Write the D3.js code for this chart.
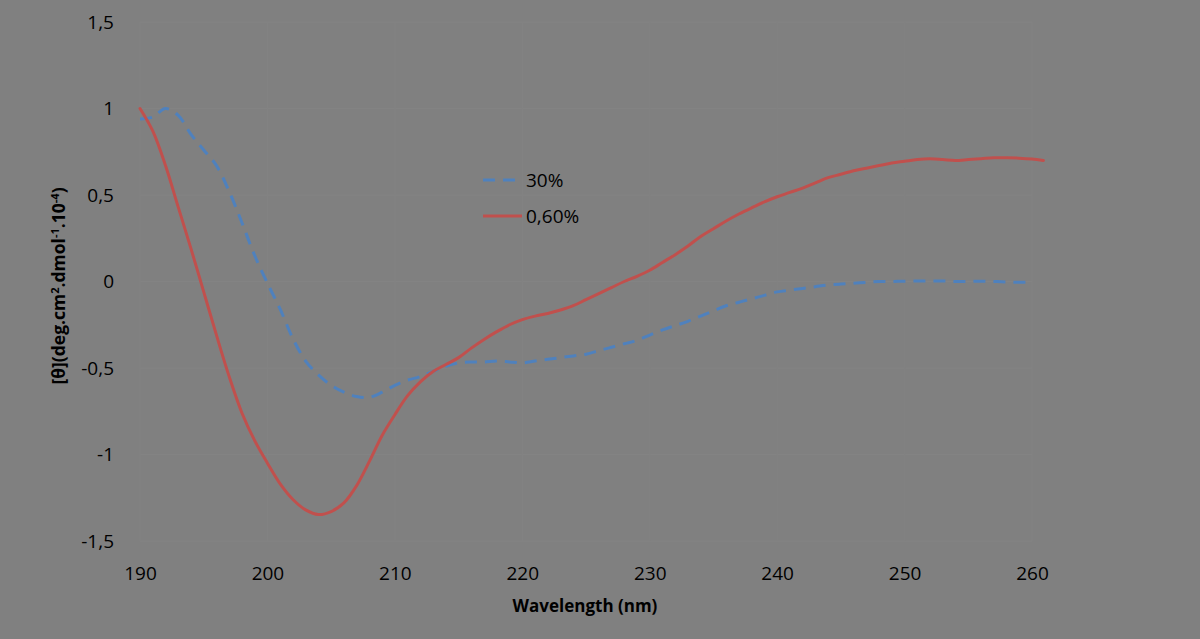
<!DOCTYPE html>
<html>
<head>
<meta charset="utf-8">
<script src="https://cdn.jsdelivr.net/npm/d3@7"></script>
<style>
  body { margin: 0; background: #808080; }
  svg { display: block; }
</style>
</head>
<body>
<svg id="graph"></svg>
<script>
// wavelengths (nm) for each curve
var wavelengths = [190,191,192,193,194,195,196,197,198,199,
                   200,201,202,203,204,205,206,207,208,209,
                   210,211,212,213,214,215,216,217,218,219,
                   220,221,222,223,224,225,226,227,228,229,
                   230,231,232,233,234,235,236,237,238,239,
                   240,241,242,243,244,245,246,247,248,249,
                   250,251,252,253,254,255,256,257,258,259,260];
var wavelengthsRed = wavelengths.concat([260.9]);

// 30% (blue dashed)
var series30 = [0.94,0.95,1.0,0.96,0.85,0.76,0.67,0.52,0.34,0.15,
                -0.01,-0.16,-0.33,-0.46,-0.54,-0.60,-0.64,-0.665,-0.67,-0.64,
                -0.60,-0.57,-0.55,-0.52,-0.49,-0.47,-0.465,-0.465,-0.46,-0.465,
                -0.47,-0.46,-0.45,-0.44,-0.43,-0.42,-0.40,-0.38,-0.36,-0.34,
                -0.31,-0.28,-0.255,-0.23,-0.20,-0.17,-0.14,-0.12,-0.10,-0.08,
                -0.06,-0.05,-0.04,-0.03,-0.02,-0.015,-0.01,-0.005,0.0,0.0,
                0.002,0.003,0.003,0.003,0.0,0.0,0.002,0.0,-0.003,-0.005,-0.004];

// 0,60% (red solid)
var series060 = [1.0,0.87,0.67,0.43,0.19,-0.06,-0.31,-0.55,-0.76,-0.92,
                 -1.05,-1.17,-1.26,-1.32,-1.347,-1.33,-1.28,-1.18,-1.04,-0.89,
                 -0.77,-0.66,-0.58,-0.52,-0.48,-0.44,-0.385,-0.335,-0.29,-0.25,
                 -0.22,-0.20,-0.185,-0.165,-0.14,-0.105,-0.07,-0.035,0.0,0.03,
                 0.065,0.11,0.155,0.205,0.26,0.305,0.35,0.39,0.426,0.46,
                 0.49,0.515,0.54,0.57,0.60,0.62,0.64,0.655,0.67,0.685,
                 0.695,0.705,0.709,0.705,0.70,0.705,0.71,0.715,0.715,0.713,0.708,0.70];

var xTicks = [190,200,210,220,230,240,250,260];
var yTicks = [-1.5,-1,-0.5,0,0.5,1,1.5];
var seriesNames = ["30%", "0,60%"];
var seriesColors = ["#4f81bd", "#c0504d"];

var screen = {width: 1200, height: 639};
var plot = {left: 140, right: 1032, top: 22, bottom: 541};
var font = "'Open Sans', 'Liberation Sans', sans-serif";

var svg = d3.select("#graph")
            .attr("width", screen.width)
            .attr("height", screen.height);

svg.append("rect")
   .attr("width", screen.width)
   .attr("height", screen.height)
   .attr("fill", "#808080");

var xScale = d3.scaleLinear().domain([190, 260]).range([plot.left, plot.right]);
var yScale = d3.scaleLinear().domain([-1.5, 1.5]).range([plot.bottom, plot.top]);

var fmt = function(v){ return String(v).replace(".", ","); };

// barely visible gridlines
svg.append("g")
   .selectAll("line")
   .data(yTicks)
   .enter().append("line")
   .attr("x1", plot.left).attr("x2", plot.right)
   .attr("y1", function(d){ return yScale(d); })
   .attr("y2", function(d){ return yScale(d); })
   .attr("stroke", "#838383").attr("stroke-width", 1);

svg.append("g")
   .selectAll("line")
   .data(xTicks)
   .enter().append("line")
   .attr("y1", plot.top).attr("y2", plot.bottom)
   .attr("x1", function(d){ return xScale(d); })
   .attr("x2", function(d){ return xScale(d); })
   .attr("stroke", "#828282").attr("stroke-width", 1);

// axes (labels only)
var yAxis = svg.append("g")
   .attr("transform", "translate(" + (plot.left - 23) + ",0)")
   .call(d3.axisLeft(yScale).tickValues(yTicks).tickFormat(fmt).tickSize(0));
var xAxis = svg.append("g")
   .attr("transform", "translate(0," + (plot.bottom + 22) + ")")
   .call(d3.axisBottom(xScale).tickValues(xTicks).tickFormat(fmt).tickSize(0));

[xAxis, yAxis].forEach(function(ax){
  ax.select(".domain").remove();
  ax.selectAll("text")
    .attr("font-family", font)
    .attr("font-size", 19)
    .attr("fill", "#000");
});

// axis titles
svg.append("text")
   .attr("x", 585).attr("y", 612)
   .attr("text-anchor", "middle")
   .attr("font-family", font).attr("font-size", 17).attr("font-weight", "bold")
   .attr("fill", "#000")
   .text("Wavelength (nm)");

var yTitle = svg.append("text")
   .attr("transform", "translate(65,286) rotate(-90)")
   .attr("text-anchor", "middle")
   .attr("font-family", font).attr("font-size", 17.5).attr("font-weight", "bold")
   .attr("fill", "#000");
yTitle.append("tspan").text("[θ](deg.cm");
yTitle.append("tspan").attr("dy", -6).attr("font-size", 11).text("2");
yTitle.append("tspan").attr("dy", 6).text(".dmol");
yTitle.append("tspan").attr("dy", -6).attr("font-size", 11).text("-1");
yTitle.append("tspan").attr("dy", 6).text(".10");
yTitle.append("tspan").attr("dy", -6).attr("font-size", 11).text("-4");
yTitle.append("tspan").attr("dy", 6).text(")");

// lines
var line = d3.line()
  .x(function(d){ return xScale(d[0]); })
  .y(function(d){ return yScale(d[1]); })
  .curve(d3.curveCatmullRom);

var blueData = wavelengths.map(function(w, i){ return [w, series30[i]]; });
var redData = wavelengthsRed.map(function(w, i){ return [w, series060[i]]; });

svg.append("path")
   .datum(blueData)
   .attr("d", line)
   .attr("fill", "none")
   .attr("stroke", seriesColors[0])
   .attr("stroke-width", 3)
   .attr("stroke-dasharray", "12,8");

svg.append("path")
   .datum(redData)
   .attr("d", line)
   .attr("fill", "none")
   .attr("stroke", seriesColors[1])
   .attr("stroke-width", 3)
   .attr("stroke-linecap", "round");

// legend
var legend = svg.append("g").attr("transform", "translate(483,180)");
var legendLines = legend.selectAll("g")
   .data(seriesNames)
   .enter().append("g")
   .attr("transform", function(d, i){ return "translate(0," + (i * 36) + ")"; });

legendLines.append("line")
   .attr("x1", 0).attr("x2", 39)
   .attr("y1", 0).attr("y2", 0)
   .attr("stroke", function(d, i){ return seriesColors[i]; })
   .attr("stroke-width", 3)
   .attr("stroke-dasharray", function(d, i){ return i === 0 ? "12,8" : null; });

legendLines.append("text")
   .attr("x", 43).attr("y", 0)
   .attr("dy", "0.35em")
   .attr("font-family", font).attr("font-size", 19)
   .attr("fill", "#000")
   .text(function(d){ return d; });
</script>
</body>
</html>
